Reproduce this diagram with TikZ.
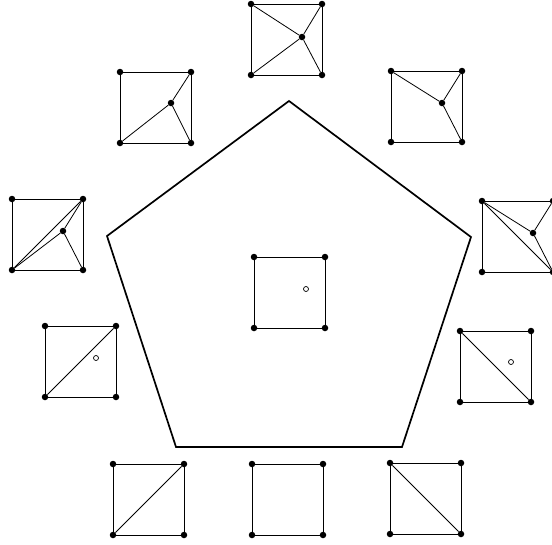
\documentclass[tikz,border=0pt]{standalone}
\usepackage{tikz}
\usetikzlibrary{positioning}
\tikzset{>=stealth}
\tikzset{dot/.style={circle, fill=black, inner sep=0pt, minimum size=6.5pt},
  hole/.style={circle, draw, fill=white, inner sep=0pt, minimum size=5pt, line width=0.7pt},
  edge/.style={line width=0.8pt},
  outline/.style={line width=1.7pt, line join=miter}}
% one cell: four corner dots and the sides
\newcommand{\cellsq}[3]{%
  \node[dot] (#1tl) at (#2,#3) {};
  \node[dot] (#1tr) at (#2+71,#3) {};
  \node[dot] (#1bl) at (#2,#3+71) {};
  \node[dot] (#1br) at (#2+71,#3+71) {};
  \draw[edge] (#1tl) -- (#1tr) -- (#1br) -- (#1bl) -- (#1tl);}

\begin{document}
\begin{tikzpicture}[x=1pt, y=-1pt]
        \useasboundingbox (0,0) rectangle (552,544);

        % pentagon
        \coordinate (pa) at (289,101);
        \coordinate (pb) at (471,237);
        \coordinate (pc) at (402,447);
        \coordinate (pd) at (176,447);
        \coordinate (pe) at (107,236);
        \draw[outline] (pa) -- (pb) -- (pc) -- (pd) -- (pe) -- cycle;

        % center cell
        \cellsq{c}{254}{257}
        \node[hole] (ch) at (306,289) {};

        % top
        \cellsq{t}{251}{4}
        \node[dot] (tp) at (302,37) {};
        \draw[edge] (tp) -- (ttl);
        \draw[edge] (tp) -- (ttr);
        \draw[edge] (tp) -- (tbl);
        \draw[edge] (tp) -- (tbr);

        % top left
        \cellsq{u}{120}{72}
        \node[dot] (up) at (171,103) {};
        \draw[edge] (up) -- (utr);
        \draw[edge] (up) -- (ubl);
        \draw[edge] (up) -- (ubr);

        % top right
        \cellsq{v}{391}{71}
        \node[dot] (vp) at (442,103) {};
        \draw[edge] (vp) -- (vtl);
        \draw[edge] (vp) -- (vtr);
        \draw[edge] (vp) -- (vbr);

        % left
        \cellsq{l}{12}{199}
        \node[dot] (lp) at (63,231) {};
        \draw[edge] (lbl) -- (ltr);
        \draw[edge] (lp) -- (ltr);
        \draw[edge] (lp) -- (lbl);
        \draw[edge] (lp) -- (lbr);

        % right
        \cellsq{r}{482}{201}
        \node[dot] (rp) at (533,233) {};
        \draw[edge] (rtl) -- (rbr);
        \draw[edge] (rp) -- (rtl);
        \draw[edge] (rp) -- (rtr);
        \draw[edge] (rp) -- (rbr);

        % lower left
        \cellsq{m}{45}{326}
        \draw[edge] (mbl) -- (mtr);
        \node[hole] (mh) at (96,358) {};

        % lower right
        \cellsq{n}{460}{331}
        \draw[edge] (ntl) -- (nbr);
        \node[hole] (nh) at (511,362) {};

        % bottom row
        \cellsq{a}{113}{464}
        \draw[edge] (abl) -- (atr);
        \cellsq{b}{252}{464}
        \cellsq{d}{390}{463}
        \draw[edge] (dtl) -- (dbr);
      \end{tikzpicture}
\end{document}
